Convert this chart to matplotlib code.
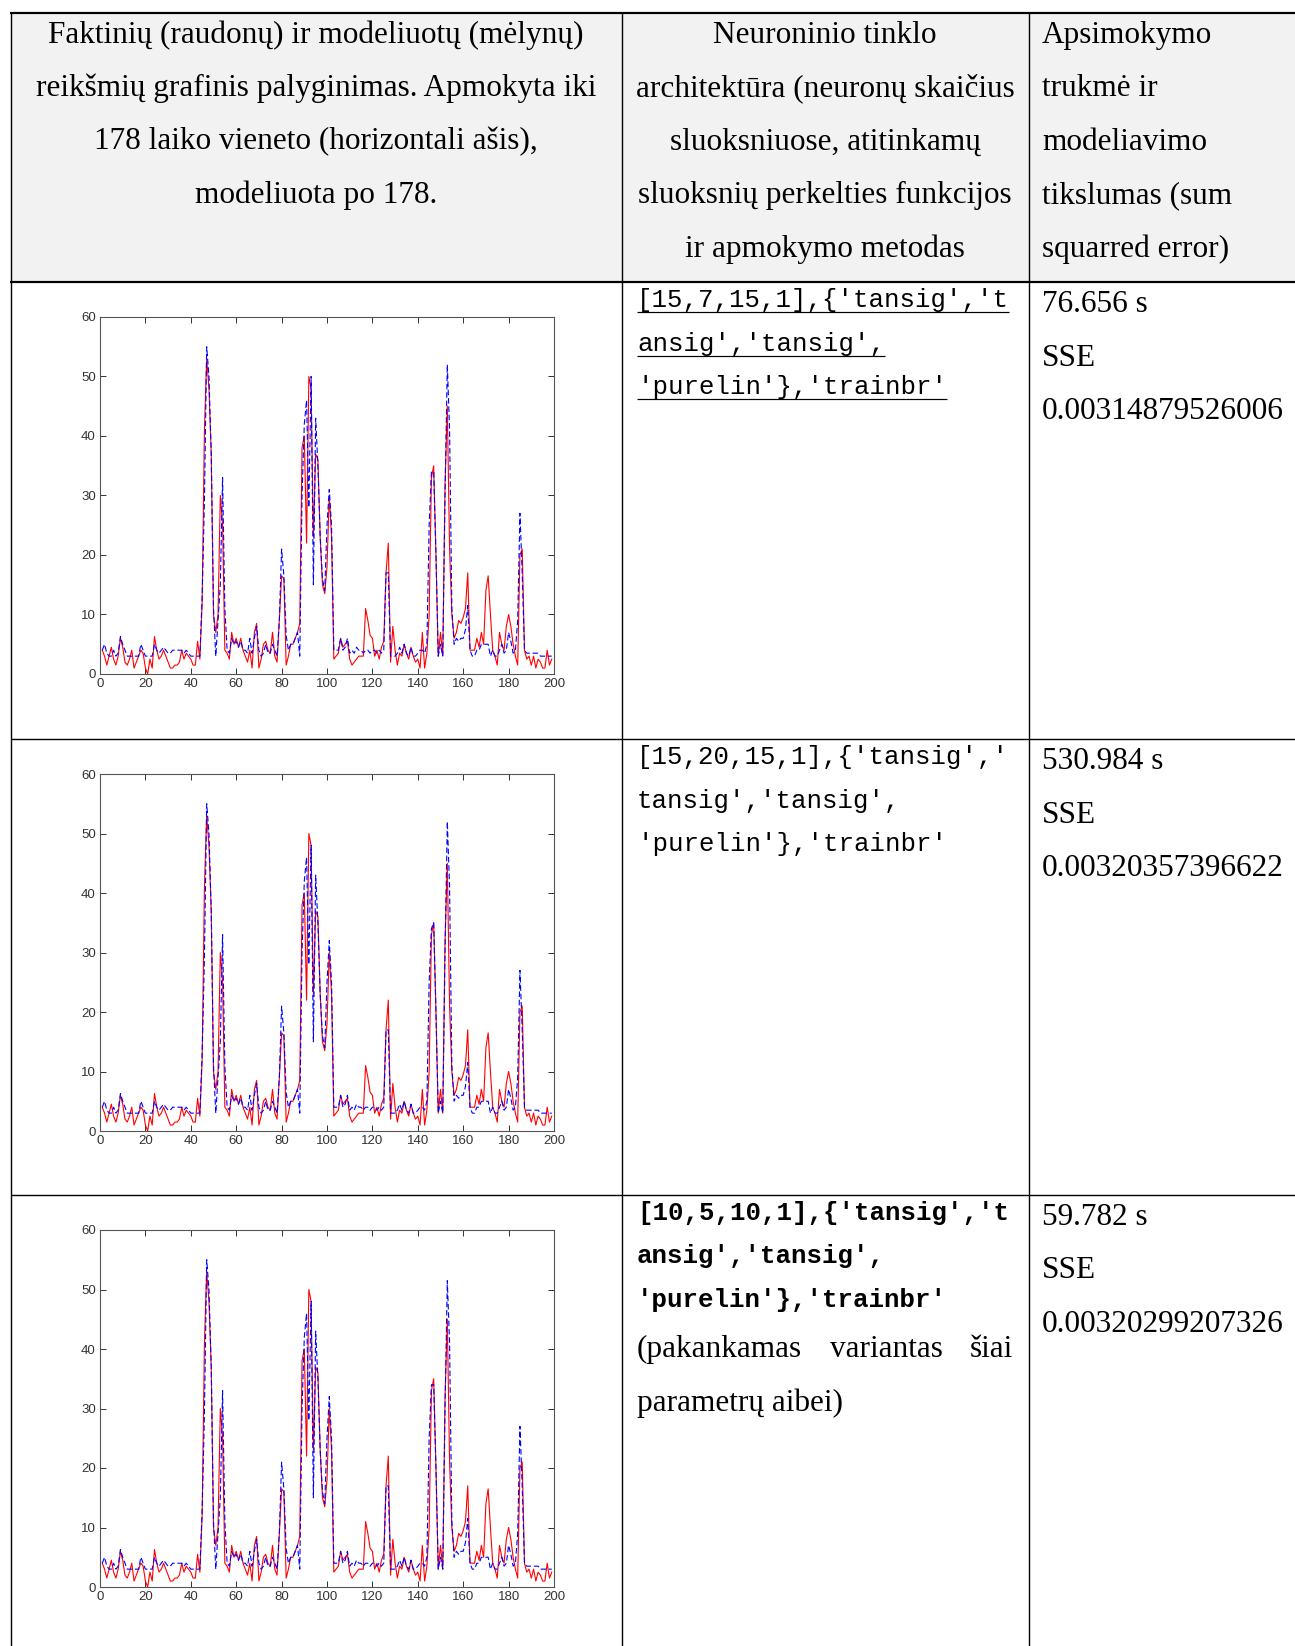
import matplotlib
matplotlib.use("Agg")
import matplotlib.pyplot as plt
from matplotlib.patches import Rectangle

# ---------------- data ----------------
time_index = list(range(1, 200))

actual_values = [
    4, 3, 1.5, 3, 4.5, 2.5, 1.5, 3, 6, 4.5,
    2, 1.5, 2.5, 4, 1, 2, 3, 4, 3.5, 1,
    0, 2.5, 1, 6.3, 4, 2.5, 3, 4, 3, 2,
    1, 1, 1.5, 1.5, 2, 4, 2.5, 3.5, 3, 2.5,
    1.5, 1.5, 5.5, 2.5, 12, 41, 53, 48, 37, 10,
    7, 10, 30, 25, 4, 3.5, 2.5, 7, 5, 6,
    4.5, 6, 4, 3, 2, 4, 1, 7, 8.5, 1,
    2.5, 5, 5.5, 4, 3.5, 7, 3, 2, 9, 16.5,
    16, 1.5, 3, 5, 5, 6, 7, 8.5, 38, 40,
    22, 50, 48, 23, 37, 36, 23, 15, 13.5, 18,
    30, 23, 2.5, 3, 3.5, 6, 4.5, 5, 5.5, 2.5,
    1.5, 2, 2.5, 3, 3, 3, 11, 9, 6.5, 6,
    3, 4, 2.5, 4.5, 5.5, 17, 22, 2, 8, 4,
    1.5, 3.5, 3, 5, 3.5, 2.5, 4.5, 3, 2, 2.5,
    1, 7, 1, 3.5, 10, 33, 35, 20, 3, 7,
    3, 32, 45, 21, 10, 6, 7, 9, 8.5, 9.5,
    11, 17, 4, 4, 4, 6, 4.5, 7, 5, 14,
    16.5, 10, 4, 3, 1.5, 7, 5, 4, 8, 10,
    8, 5, 3, 1.5, 20, 21, 4, 2.5, 3, 1.5,
    3, 1, 2.5, 2, 1, 1, 4, 1.5, 2.5,
]

model_values_1 = [
    4, 5, 3.5, 3, 3, 4, 3, 3.5, 6.3, 5,
    4, 3, 3, 3, 3, 3, 3, 5, 4, 3,
    3, 3, 3, 5, 4, 3.5, 4, 4.5, 4, 3.5,
    3.5, 4, 4, 4, 4, 4, 3.5, 4, 3.5, 3,
    3, 3, 3, 3, 13, 29, 55, 50, 37, 11,
    3, 9, 15, 33, 11, 4, 3.5, 6, 5, 5.5,
    4.5, 5.5, 4, 4, 3.5, 6, 3.5, 6, 8, 4,
    3, 3.5, 5, 3.5, 3.5, 5, 4, 3, 9, 21,
    16.5, 6.5, 4, 5, 5, 6, 7, 3, 30, 42,
    46, 28, 50, 15, 43, 35, 23, 16, 14, 25,
    31, 25, 4, 4, 4, 6, 4, 4.5, 6, 3.5,
    4, 3.5, 4.5, 4, 4, 3.5, 4, 4, 3.5, 4,
    4, 3.5, 4, 3.5, 4, 17, 17, 3, 3, 3,
    3.5, 4.5, 3.5, 5, 3.5, 3, 4.5, 3, 3, 3.5,
    4, 4, 3.5, 5, 25, 34, 34, 20, 3, 5,
    3, 30, 52, 41, 11, 5, 6, 5.5, 6, 6,
    7.5, 11.5, 4, 3, 3, 4, 4, 5, 5, 5,
    5, 3, 4, 3, 3, 4, 5, 3.5, 4, 7,
    5.5, 3.5, 4, 9, 27, 17, 4, 3.5, 3.5, 3.5,
    3.5, 3.5, 3.5, 3, 3, 3, 3, 3, 3,
]

model_values_2 = [
    4, 5, 3.5, 3, 3, 4, 3, 3.5, 6.3, 5,
    4, 3, 3, 3, 3, 3, 3, 5, 4, 3,
    3, 3, 3, 5, 4, 3.5, 4, 4.5, 4, 3.5,
    3.5, 4, 4, 4, 4, 4, 3.5, 4, 3.5, 3,
    3, 3, 3, 3, 13, 29, 55, 50, 37, 11,
    3, 9, 15, 33, 11, 4, 3.5, 6, 5, 5.5,
    4.5, 5.5, 4, 4, 3.5, 6, 3.5, 6, 8, 4,
    3, 3.5, 5, 3.5, 3.5, 5, 4, 3, 9, 21,
    16.5, 6.5, 4, 5, 5, 6, 7, 3, 30, 42,
    46, 28, 48, 15, 43, 35, 23, 16, 14, 25,
    32, 25, 4, 4, 4, 6, 4, 4.5, 6, 3.5,
    4, 3.5, 4.5, 4, 4, 3.5, 4, 4, 3.5, 4,
    4, 3.5, 4, 3.5, 4, 17, 17, 3, 3, 3,
    3.5, 4.5, 3.5, 5, 3.5, 3, 4.5, 3, 3, 3.5,
    4, 4, 3.5, 5, 25, 34, 35, 20, 3, 5,
    3, 30, 52, 41, 11, 5, 6, 5.5, 6, 6,
    7.5, 11.5, 4, 3, 3, 4, 4, 5, 5, 5,
    5, 3, 4, 3, 3, 4, 5, 3.5, 4, 7,
    5.5, 3.5, 4, 9, 27, 17, 4, 3.5, 3.5, 3.5,
    3.5, 3.5, 3.5, 3, 3, 3, 3, 3, 3,
]

model_values_3 = [
    4, 5, 3.5, 3, 3, 4, 3, 3.5, 6.3, 5,
    4, 3, 3, 3, 3, 3, 3, 5, 4, 3,
    3, 3, 3, 5, 4, 3.5, 4, 4.5, 4, 3.5,
    3.5, 4, 4, 4, 4, 4, 3.5, 4, 3.5, 3,
    3, 3, 3, 3, 13, 29, 55, 50, 37, 11,
    3, 9, 15, 33, 11, 4, 3.5, 6, 5, 5.5,
    4.5, 5.5, 4, 4, 3.5, 6, 3.5, 6, 8, 4,
    3, 3.5, 5, 3.5, 3.5, 5, 4, 3, 9, 21,
    16.5, 6.5, 4, 5, 5, 6, 7, 3, 30, 42,
    46, 28, 48, 15, 43, 35, 23, 16, 14, 25,
    32, 25, 4, 4, 4, 6, 4, 4.5, 6, 3.5,
    4, 3.5, 4.5, 4, 4, 3.5, 4, 4, 3.5, 4,
    4, 3.5, 4, 3.5, 4, 17, 17, 3, 3, 3,
    3.5, 4.5, 3.5, 5, 3.5, 3, 4.5, 3, 3, 3.5,
    4, 4, 3.5, 5, 25, 34, 34, 20, 3, 5,
    3, 30, 51.5, 41, 11, 5, 6, 5.5, 6, 6,
    7.5, 11.5, 4, 3, 3, 4, 4, 5, 5, 5,
    5, 3, 4, 3, 3, 4, 5, 3.5, 4, 7,
    5.5, 3.5, 4, 9, 27, 17, 4, 3.5, 3.5, 3.5,
    3.5, 3.5, 3.5, 3, 3, 3, 3, 3, 3,
]

x_ticks = [0, 20, 40, 60, 80, 100, 120, 140, 160, 180, 200]
y_ticks = [0, 10, 20, 30, 40, 50, 60]

header_col1 = ["Faktinių (raudonų) ir modeliuotų (mėlynų)",
               "reikšmių grafinis palyginimas. Apmokyta iki",
               "178 laiko vieneto (horizontali ašis),",
               "modeliuota po 178."]
header_col2 = ["Neuroninio tinklo",
               "architektūra (neuronų skaičius",
               "sluoksniuose, atitinkamų",
               "sluoksnių perkelties funkcijos",
               "ir apmokymo metodas"]
header_col3 = ["Apsimokymo", "trukmė ir", "modeliavimo",
               "tikslumas (sum", "squarred error)"]

arch_texts = [
    ["[15,7,15,1],{'tansig','t", "ansig','tansig',", "'purelin'},'trainbr'"],
    ["[15,20,15,1],{'tansig','", "tansig','tansig',", "'purelin'},'trainbr'"],
    ["[10,5,10,1],{'tansig','t", "ansig','tansig',", "'purelin'},'trainbr'"],
]
note_words = ["(pakankamas", "variantas", "šiai"]
note_line2 = "parametrų aibei)"
train_times = ["76.656 s", "530.984 s", "59.782 s"]
sse_values = ["0.00314879526006", "0.00320357396622", "0.00320299207326"]

# ---------------- layout ----------------
W, H = 1295, 1646
fig = plt.figure(figsize=(W / 100, H / 100), dpi=100)
fig.patch.set_facecolor("white")
bg = fig.add_axes([0, 0, 1, 1])
bg.set_xlim(0, W)
bg.set_ylim(H, 0)
bg.axis("off")

SERIF = "Liberation Serif"
MONO = "Liberation Mono"
SANS = "Liberation Sans"
serif_size = 22.5
mono_size = 18.5

x_left, x_c1, x_c2 = 10.5, 622, 1029
y_top, y_head, y_r2, y_r3 = 13, 282, 739, 1195

bg.add_patch(Rectangle((x_left, y_top), W - x_left, y_head - y_top,
                       facecolor="#f2f2f2", edgecolor="none", zorder=0))

def hline(y, x0, x1, px):
    bg.plot([x0, x1], [y, y], color="black", lw=px * 0.72, solid_capstyle="butt", zorder=2)

def vline(x, y0, y1, px):
    bg.plot([x, x], [y0, y1], color="black", lw=px * 0.72, solid_capstyle="butt", zorder=2)

hline(y_top, x_left - 1, W, 2.2)
hline(y_head, x_left - 1, W, 2.2)
hline(y_r2, x_left, W, 1.4)
hline(y_r3, x_left, W, 1.4)
vline(x_left, y_top - 1, H, 1.4)
vline(x_c1, y_top, H, 1.4)
vline(x_c2, y_top, H, 1.4)

serif_off = 10
mono_off = 8

# header
for i, t in enumerate(header_col1):
    bg.text(316, 32.5 + 53.6 * i + serif_off, t, family=SERIF, size=serif_size,
            ha="center", va="baseline")
for i, t in enumerate(header_col2):
    bg.text(825, 32.5 + 53.6 * i + serif_off, t, family=SERIF, size=serif_size,
            ha="center", va="baseline")
for i, t in enumerate(header_col3):
    bg.text(1042, 32.5 + 53.6 * i + serif_off, t, family=SERIF, size=serif_size,
            ha="left", va="baseline")

row_mono_y = [299, 756, 1212]
row_col3_y = [302, 759, 1215]
mono_step = 43.5
serif_step = 53.5

underline_texts = []
for r in range(3):
    for i, t in enumerate(arch_texts[r]):
        txt = bg.text(637, row_mono_y[r] + mono_step * i + mono_off, t, family=MONO,
                      size=mono_size, ha="left", va="baseline",
                      weight="bold" if r == 2 else "normal")
        if r == 0:
            underline_texts.append((txt, row_mono_y[r] + mono_step * i + mono_off + 5))
    for i, t in enumerate([train_times[r], "SSE", sse_values[r]]):
        bg.text(1042, row_col3_y[r] + serif_step * i + serif_off, t, family=SERIF,
                size=serif_size, ha="left", va="baseline")

# justified note in row 3
y_note = 1347 + serif_off
bg.text(637, y_note, note_words[0], family=SERIF, size=serif_size, ha="left", va="baseline")
bg.text(886, y_note, note_words[1], family=SERIF, size=serif_size, ha="center", va="baseline")
bg.text(1013, y_note, note_words[2], family=SERIF, size=serif_size, ha="right", va="baseline")
bg.text(637, 1401 + serif_off, note_line2, family=SERIF, size=serif_size, ha="left", va="baseline")

# ---------------- plots ----------------
plot_tops = [317, 774, 1230]
ax_left, ax_w, ax_h = 100, 454, 357
models = [model_values_1, model_values_2, model_values_3]
for top, model in zip(plot_tops, models):
    ax = fig.add_axes([ax_left / W, 1 - (top + ax_h) / H, ax_w / W, ax_h / H])
    ax.plot(time_index, actual_values, color="#ff0000", lw=0.8)
    ax.plot(time_index, model, color="#0000ff", lw=0.8, ls="--", dashes=(5, 2.5))
    ax.set_xlim(0, 200)
    ax.set_ylim(0, 60)
    ax.set_xticks(x_ticks)
    ax.set_yticks(y_ticks)
    ax.tick_params(direction="in", top=True, right=True, length=4, width=0.7,
                   color="#333333", labelsize=9.5, labelcolor="#333333", pad=3)
    for lab in ax.get_xticklabels() + ax.get_yticklabels():
        lab.set_family(SANS)
    for s in ax.spines.values():
        s.set_color("#555555")
        s.set_linewidth(0.8)

# underlines for row 1
fig.canvas.draw()
renderer = fig.canvas.get_renderer()
inv = bg.transData.inverted()
for txt, yy in underline_texts:
    bb = txt.get_window_extent(renderer)
    (x0, _), (x1, _) = inv.transform([(bb.x0, bb.y0), (bb.x1, bb.y1)])
    bg.plot([x0, x1], [yy, yy], color="black", lw=1.2 * 0.72, solid_capstyle="butt")

fig.savefig("out.png", dpi=100, facecolor="white")
